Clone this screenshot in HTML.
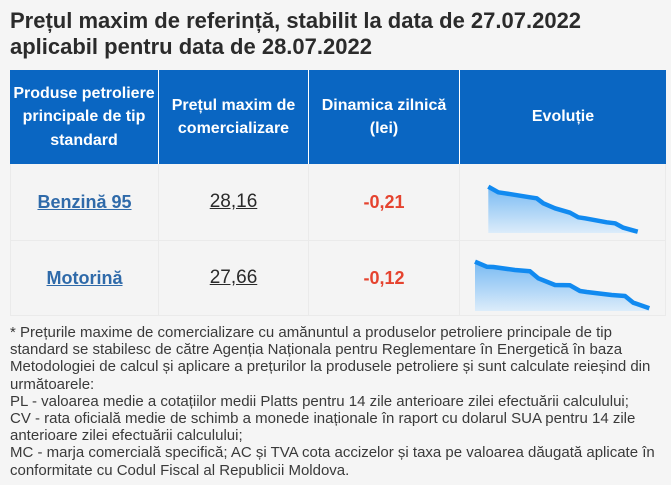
<!DOCTYPE html>
<html>
<head>
<meta charset="utf-8">
<style>
  html,body{margin:0;padding:0;}
  body{width:671px;height:485px;background:#f5f5f5;position:relative;overflow:hidden;font-family:"Liberation Sans",Arial,sans-serif;}
  .title{position:absolute;left:10px;top:8px;font-size:22px;line-height:26px;font-weight:bold;color:#2b2b2b;white-space:nowrap;}
  .hdr{position:absolute;top:70px;height:94px;background:#0a66c2;color:#fff;font-weight:bold;font-size:16px;line-height:23.5px;display:flex;align-items:center;justify-content:center;text-align:center;box-sizing:border-box;white-space:nowrap;}
  .cell{position:absolute;display:flex;align-items:center;justify-content:center;text-align:center;box-sizing:border-box;border-right:1px solid #eaeaea;border-bottom:1px solid #eaeaea;background:#f4f4f4;}
  .name{font-size:18px;font-weight:bold;color:#2f6aa9;text-decoration:underline;}
  .price{font-size:19px;color:#2a2a2a;text-decoration:underline;}
  .dyn{font-size:18px;font-weight:bold;color:#e5432f;}
  .note{position:absolute;left:10px;top:324px;font-size:15px;line-height:17.2px;color:#3a3a3a;white-space:nowrap;}
</style>
</head>
<body>
<div class="title">Prețul maxim de referință, stabilit la data de 27.07.2022<br>aplicabil pentru data de 28.07.2022</div>

<div class="hdr" style="left:10px;width:149px;border-right:1px solid #fff;">Produse petroliere<br>principale de tip<br>standard</div>
<div class="hdr" style="left:159px;width:150px;border-right:1px solid #fff;">Prețul maxim de<br>comercializare</div>
<div class="hdr" style="left:309px;width:151px;border-right:1px solid #fff;">Dinamica zilnică<br>(lei)</div>
<div class="hdr" style="left:460px;width:206px;">Evoluție</div>

<div class="cell" style="left:10px;top:164px;width:149px;height:77px;border-left:1px solid #eaeaea;"><span class="name">Benzină 95</span></div>
<div class="cell" style="left:159px;top:164px;width:150px;height:77px;"><span class="price">28,16</span></div>
<div class="cell" style="left:309px;top:164px;width:151px;height:77px;"><span class="dyn">-0,21</span></div>
<div class="cell" style="left:460px;top:164px;width:206px;height:77px;"></div>

<div class="cell" style="left:10px;top:241px;width:149px;height:75px;border-left:1px solid #eaeaea;"><span class="name">Motorină</span></div>
<div class="cell" style="left:159px;top:241px;width:150px;height:75px;"><span class="price">27,66</span></div>
<div class="cell" style="left:309px;top:241px;width:151px;height:75px;"><span class="dyn">-0,12</span></div>
<div class="cell" style="left:460px;top:241px;width:206px;height:75px;"></div>

<svg style="position:absolute;left:0;top:0;" width="671" height="485" viewBox="0 0 671 485">
  <defs>
    <linearGradient id="g1" x1="0" y1="0" x2="0" y2="1">
      <stop offset="0" stop-color="#78baf3"/>
      <stop offset="1" stop-color="#dcecfa"/>
    </linearGradient>
  </defs>
  <polygon fill="url(#g1)" points="488.3,186.7 498.3,192.3 505,193.3 530,197.3 536.7,198.3 543.3,203.3 555,208.3 570,212.7 578.3,217.3 585,218.3 606.7,222.3 615,223.3 623.3,227.7 637.7,231.7 637.7,233 488.3,233"/>
  <polyline fill="none" stroke="#118af0" stroke-width="4.5" stroke-linejoin="round" points="488.3,186.7 498.3,192.3 505,193.3 530,197.3 536.7,198.3 543.3,203.3 555,208.3 570,212.7 578.3,217.3 585,218.3 606.7,222.3 615,223.3 623.3,227.7 637.7,231.7"/>
  <polygon fill="url(#g1)" points="475,261.7 486.7,266.7 493.3,267 515,270 530,271.3 538.3,278.3 555,285 570,285.3 580,291 586.7,292 611.7,295 625,296 633.3,302.7 649.3,308.3 649.3,311 475,311"/>
  <polyline fill="none" stroke="#118af0" stroke-width="4.5" stroke-linejoin="round" points="475,261.7 486.7,266.7 493.3,267 515,270 530,271.3 538.3,278.3 555,285 570,285.3 580,291 586.7,292 611.7,295 625,296 633.3,302.7 649.3,308.3"/>
</svg>

<div class="note">* Prețurile maxime de comercializare cu amănuntul a produselor petroliere principale de tip<br>standard se stabilesc de către Agenția Naționala pentru Reglementare în Energetică în baza<br>Metodologiei de calcul și aplicare a prețurilor la produsele petroliere și sunt calculate reieșind din<br>următoarele:<br>PL - valoarea medie a cotațiilor medii Platts pentru 14 zile anterioare zilei efectuării calculului;<br>CV - rata oficială medie de schimb a monede inaționale în raport cu dolarul SUA pentru 14 zile<br>anterioare zilei efectuării calculului;<br>MC - marja comercială specifică; AC și TVA cota accizelor și taxa pe valoarea dăugată aplicate în<br>conformitate cu Codul Fiscal al Republicii Moldova.</div>
</body>
</html>
